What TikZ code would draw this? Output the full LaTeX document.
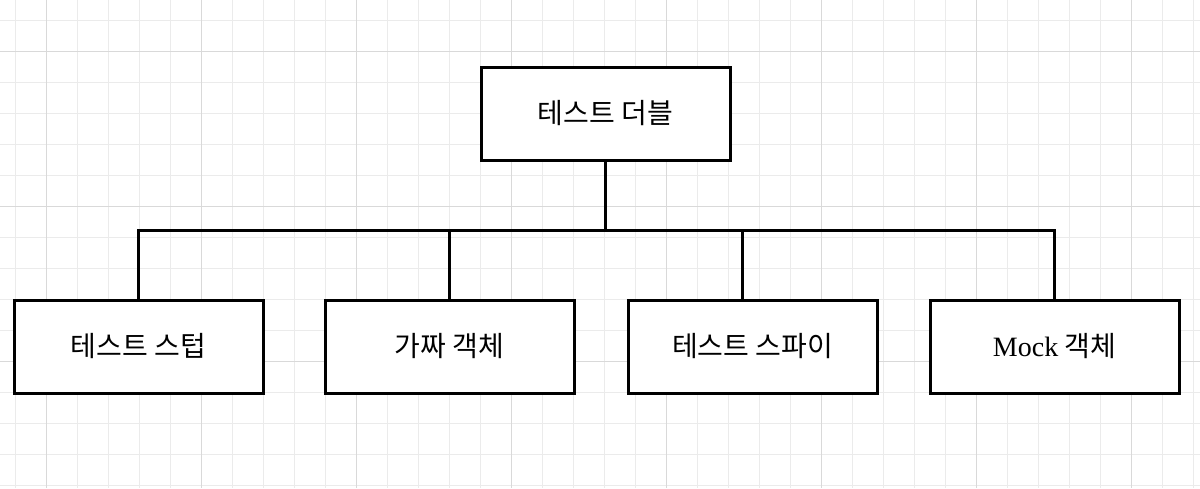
\documentclass[tikz,border=0pt]{standalone}
\usepackage{fontspec}
\setmainfont{Liberation Serif}
\newfontfamily\cjk{Noto Sans CJK KR}
\definecolor{gridminor}{HTML}{EBEBEB}
\definecolor{gridmajor}{HTML}{D9D9D9}
\begin{document}
\begin{tikzpicture}[x=1pt,y=-1pt,
  box/.style={draw=black, line width=3pt, fill=white, minimum width=249pt, minimum height=93pt, inner sep=0pt, font=\fontsize{28}{32}\selectfont\cjk},
  conn/.style={draw=black, line width=3pt}]
\fill[white] (0,0) rectangle (1200,488);
\useasboundingbox (0,0) rectangle (1200,488);
\foreach \i in {0,...,39} {
  \draw[gridminor, line width=1pt] ({15+31*\i},0) -- ({15+31*\i},488);
}
\foreach \i in {0,...,16} {
  \draw[gridminor, line width=1pt] (0,{20+31*\i}) -- (1200,{20+31*\i});
}
\foreach \i in {0,...,7} {
  \draw[gridmajor, line width=1pt] ({46+155*\i},0) -- ({46+155*\i},488);
}
\foreach \i in {0,...,3} {
  \draw[gridmajor, line width=1pt] (0,{51+155*\i}) -- (1200,{51+155*\i});
}
\node[box] (root) at (605.5,113.5) {테스트 더블};
\node[box] (a) at (138.5,346.5) {테스트 스텁};
\node[box] (b) at (449.5,346.5) {가짜 객체};
\node[box] (c) at (752.5,346.5) {테스트 스파이};
\node[box] (d) at (1054.5,346.5) {{\rmfamily Mock} 객체};
\coordinate (bus) at (605.5,230);
\coordinate (cjoin) at (742,230);
\draw[conn] (root.south) -- (bus);
\draw[conn] (a.north) |- (bus);
\draw[conn] (d.north) |- (bus);
\draw[conn] (b.north) -- (b.north |- bus);
\draw[conn] (cjoin) -- (cjoin |- c.north);
\end{tikzpicture}
\end{document}
